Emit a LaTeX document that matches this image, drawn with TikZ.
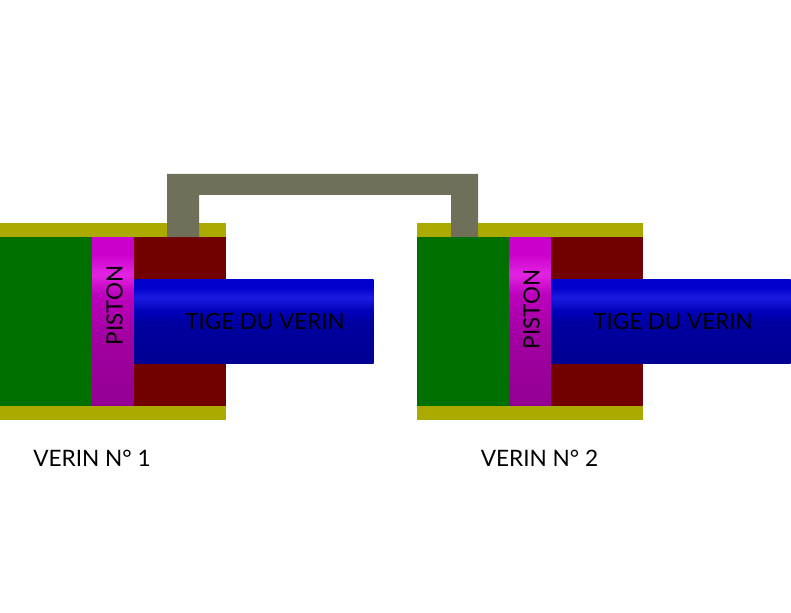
\documentclass[tikz,border=0pt]{standalone}
\usepackage{fontspec}
\setmainfont{Lato}
\definecolor{wall}{RGB}{170,170,0}
\definecolor{chamberA}{RGB}{0,112,0}
\definecolor{chamberB}{RGB}{115,0,0}
\definecolor{pipecol}{RGB}{112,112,90}
\pgfdeclareverticalshading{pistonshade}{100bp}{
  rgb(0bp)=(0.58,0,0.58);
  rgb(25bp)=(0.58,0,0.58);
  rgb(45bp)=(0.63,0,0.63);
  rgb(58bp)=(0.74,0,0.74);
  rgb(64bp)=(0.89,0.14,0.89);
  rgb(70bp)=(0.80,0,0.80);
  rgb(75bp)=(0.80,0,0.80);
  rgb(100bp)=(0.80,0,0.80)}
\pgfdeclareverticalshading{rodshade}{100bp}{
  rgb(0bp)=(0,0,0.58);
  rgb(25bp)=(0,0,0.58);
  rgb(48bp)=(0,0,0.62);
  rgb(56bp)=(0,0,0.72);
  rgb(64bp)=(0.11,0.11,0.88);
  rgb(70bp)=(0,0,0.80);
  rgb(75bp)=(0,0,0.80);
  rgb(100bp)=(0,0,0.80)}
\tikzset{
  flatfill/.style={fill=#1,draw=none},
  pistonbar/.style={shading=pistonshade,draw=none},
  rodbar/.style={shading=rodshade,draw=none},
  caption/.style={font=\fontsize{22.6}{23}\selectfont,text=black,inner sep=0pt,anchor=base},
  partlabel/.style={font=\fontsize{22.4}{23}\selectfont,text=black,inner sep=0pt}
}
\newcommand{\verin}[4]{%
  \begin{scope}[xshift=#1pt]
    \path[pistonbar] (92,237) rectangle (134,406);
    \path[flatfill=chamberA] (0,237) rectangle (92,406);
    \path[flatfill=chamberB] (134,237) rectangle (226,406);
    \path[flatfill=wall] (0,223) rectangle (226,237);
    \path[flatfill=wall] (0,406) rectangle (226,420);
    \path[rodbar] (134.4,279.2) rectangle (373.6,363.6);
    \node[partlabel,rotate=90] (piston#4) at (114.5,#2) {PISTON};
    \node[partlabel] (tige#4) at (#3,321.5) {TIGE DU VERIN};
  \end{scope}}
\begin{document}
\begin{tikzpicture}[x=1pt,y=-1pt]
  \useasboundingbox (0,0) rectangle (791,612);
  \verin{0}{305.5}{265}{a}
  \verin{417}{309.5}{256}{b}
  \path[flatfill=pipecol] (167,237) -- (167,174) -- (478,174) -- (478,237)
    -- (451,237) -- (451,195) -- (199,195) -- (199,237) -- cycle;
  \node[caption] (cap1) at (92,466) {VERIN N° 1};
  \node[caption] (cap2) at (539.5,466) {VERIN N° 2};
\end{tikzpicture}
\end{document}
